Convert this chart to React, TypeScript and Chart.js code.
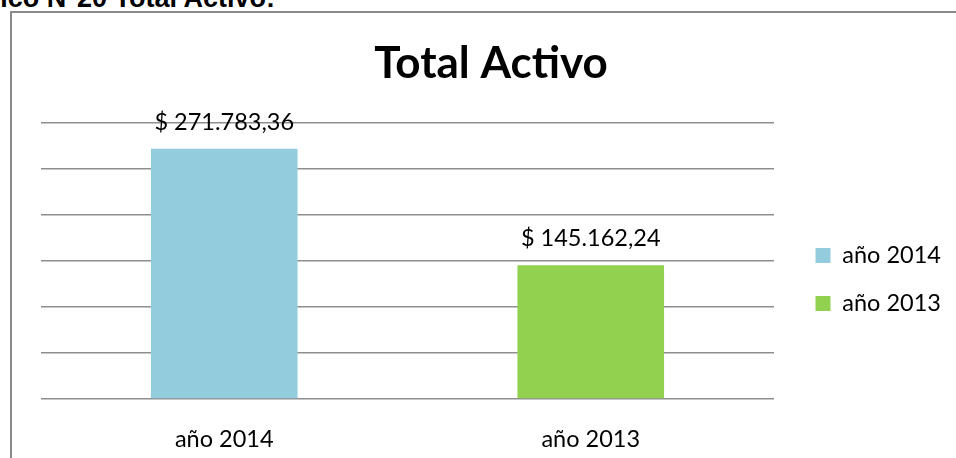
import React, { useEffect, useRef } from "react";
import { Chart, registerables } from "chart.js";

Chart.register(...registerables);

const categories = ["año 2014", "año 2013"];
const values = [271783.36, 145162.24];
const legendLabels = ["año 2014", "año 2013"];
const barColors = ["#93CDDD", "#92D050"];
const yMin = 0;
const yMax = 300000;
const yStep = 50000;
const chartTitle = "Total Activo";
const pageHeading = "Gráfico N°20 Total Activo:";

const FONT = "Lato, 'Open Sans', sans-serif";

function formatMoney(v: number): string {
  const fixed = v.toFixed(2);
  const [intPart, dec] = fixed.split(".");
  const grouped = intPart.replace(/\B(?=(\d{3})+(?!\d))/g, ".");
  return "$ " + grouped + "," + dec;
}

const dataLabelPlugin = {
  id: "dataLabels",
  afterDatasetsDraw(chart: any) {
    const ctx = chart.ctx;
    ctx.save();
    ctx.font = `23.5px ${FONT}`;
    ctx.fillStyle = "#000";
    ctx.textAlign = "center";
    ctx.textBaseline = "alphabetic";
    chart.data.datasets.forEach((ds: any, di: number) => {
      const meta = chart.getDatasetMeta(di);
      meta.data.forEach((el: any, i: number) => {
        const v = ds.data[i];
        if (v == null) return;
        ctx.fillText(formatMoney(v), el.x, el.y - 19);
      });
    });
    ctx.restore();
  },
};

export default function App() {
  const canvasRef = useRef<HTMLCanvasElement | null>(null);

  useEffect(() => {
    if (!canvasRef.current) return;
    const chart = new Chart(canvasRef.current, {
      type: "bar",
      data: {
        labels: categories,
        datasets: [
          {
            data: values,
            backgroundColor: barColors,
            borderWidth: 0,
            categoryPercentage: 1,
            barPercentage: 0.4,
          },
        ],
      },
      options: {
        animation: false,
        responsive: false,
        maintainAspectRatio: false,
        devicePixelRatio: 1,
        layout: { padding: { left: 29, right: 15, top: 0, bottom: 0 } },
        plugins: {
          title: {
            display: true,
            text: chartTitle,
            color: "#000",
            font: { family: FONT, size: 44, weight: "bold" },
            padding: { top: 24, bottom: 33 },
          },
          legend: {
            display: true,
            position: "right",
            align: "center",
            title: {
              display: true,
              text: " ",
              color: "rgba(0,0,0,0)",
              font: { family: FONT, size: 10, lineHeight: 1.2 },
              padding: { top: 38, bottom: 38 },
            },
            labels: {
              boxWidth: 15,
              boxHeight: 15,
              padding: 24.5,
              color: "#000",
              font: { family: FONT, size: 23.5 },
              generateLabels: () =>
                legendLabels.map((t, i) => ({
                  text: t,
                  fillStyle: barColors[i],
                  strokeStyle: barColors[i],
                  fontColor: "#000",
                  lineWidth: 0,
                  hidden: false,
                  index: i,
                  datasetIndex: 0,
                })),
            },
          },
          tooltip: { enabled: false },
        },
        scales: {
          x: {
            grid: { display: false, drawTicks: false },
            border: { display: false },
            ticks: {
              color: "#000",
              padding: 26,
              font: { family: FONT, size: 23.5 },
            },
            afterFit: (s: any) => {
              s.height = 59;
            },
          },
          y: {
            min: yMin,
            max: yMax,
            grid: { color: "#8e8e8e", lineWidth: 1.5, drawTicks: false },
            border: { display: false },
            ticks: { display: false, stepSize: yStep },
          },
          gap: {
            type: "linear",
            position: "right",
            display: true,
            grid: { display: false, drawTicks: false },
            border: { display: false },
            ticks: { display: false },
            afterFit: (s: any) => {
              s.width = 17;
            },
          },
        },
      },
      plugins: [dataLabelPlugin],
    } as any);
    return () => chart.destroy();
  }, []);

  return (
    <div
      style={{
        position: "fixed",
        left: 0,
        top: 0,
        width: 956,
        height: 458,
        overflow: "hidden",
        background: "#fff",
      }}
    >
      <div
        style={{
          position: "absolute",
          right: 681,
          top: -15,
          whiteSpace: "nowrap",
          font: "bold 27px 'Liberation Sans', Arial, sans-serif",
          lineHeight: "27px",
          color: "#000",
          zIndex: 2,
        }}
      >
        {pageHeading}
      </div>
      <div
        style={{
          position: "absolute",
          left: 10,
          top: 11,
          width: 946,
          height: 447,
          borderLeft: "2px solid #8a8a8a",
          borderTop: "2px solid #8a8a8a",
          boxSizing: "border-box",
        }}
      />
      <canvas
        ref={canvasRef}
        width={944}
        height={445}
        style={{ position: "absolute", left: 12, top: 13, width: 944, height: 445 }}
      />
    </div>
  );
}
